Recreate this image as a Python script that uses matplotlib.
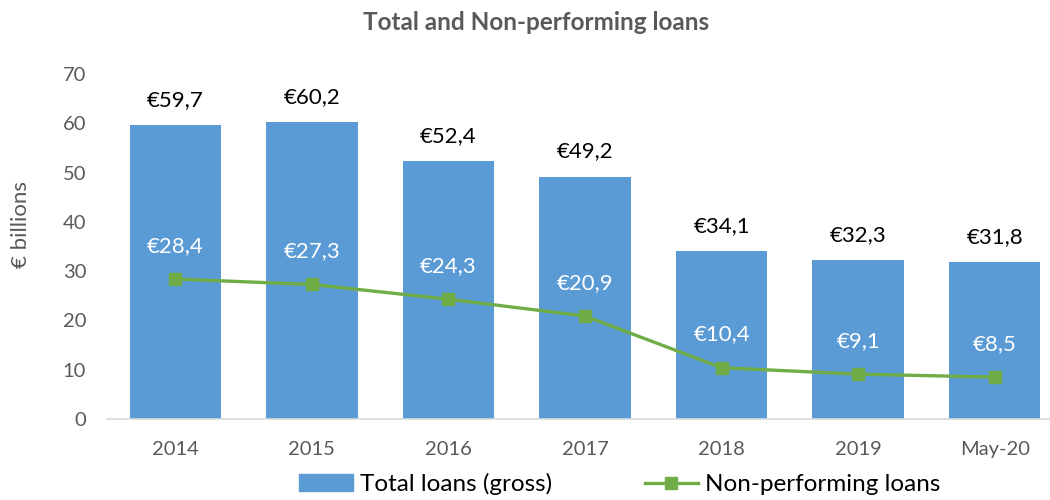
import numpy as np
import matplotlib
matplotlib.use("Agg")
import matplotlib.pyplot as plt
from matplotlib.patches import Patch
from matplotlib.lines import Line2D

# Data
years = ["2014", "2015", "2016", "2017", "2018", "2019", "May-20"]
totalLoans = [59.7, 60.2, 52.4, 49.2, 34.1, 32.3, 31.8]
nplLoans = [28.4, 27.3, 24.3, 20.9, 10.4, 9.1, 8.5]

barColor = "#5B9BD5"
lineColor = "#70AD47"
greyText = "#595959"

plt.rcParams["font.family"] = ["Lato", "DejaVu Sans"]

fig = plt.figure(figsize=(10.5, 5.0), dpi=100)
ax = fig.add_axes([107 / 1050, 1 - 419 / 500, (1063 - 107) / 1050, (419 - 74) / 500])

x = np.arange(len(years))
ax.bar(x, totalLoans, width=0.67, color=barColor)
ax.plot(x, nplLoans, color=lineColor, lw=2.4, marker="s", ms=8.5)

# Labels above the bars
for xi, v in zip(x, totalLoans):
	ax.annotate(f"€{v:.1f}".replace(".", ","), (xi, v), xytext=(0, 18), textcoords="offset points",
		ha="center", va="center", fontsize=16, color="black")

# Labels above the line markers
for xi, v in zip(x, nplLoans):
	ax.annotate(f"€{v:.1f}".replace(".", ","), (xi, v), xytext=(0, 24), textcoords="offset points",
		ha="center", va="center", fontsize=16, color="white")

ax.set_xlim(-0.5, len(years) - 0.5)
ax.set_ylim(0, 70)
ax.set_yticks(range(0, 71, 10))
ax.set_xticks(x)
ax.set_xticklabels(years)
ax.tick_params(axis="both", length=0, labelsize=14.5, colors=greyText)
ax.tick_params(axis="x", pad=16)
ax.tick_params(axis="y", pad=15)

for side in ["top", "right", "left"]:
	ax.spines[side].set_visible(False)
ax.spines["bottom"].set_color("#D9D9D9")
ax.spines["bottom"].set_linewidth(1.2)

fig.text(21 / 1050, 1 - 224 / 500, "€ billions", rotation=90, ha="center", va="center",
	fontsize=16, color=greyText)
fig.text(536 / 1050, 1 - 22 / 500, "Total and Non-performing loans", ha="center", va="center",
	fontsize=17.5, fontweight="bold", color=greyText)

handles = [Patch(color=barColor), Line2D([], [], color=lineColor, lw=2.4, marker="s", ms=8)]
fig.legend(handles, ["Total loans (gross)", "Non-performing loans"], loc="center",
	bbox_to_anchor=(620 / 1050, 1 - 484 / 500), ncol=2, frameon=False, fontsize=17.5,
	columnspacing=3.8, handlelength=2.2, handletextpad=0.3, borderpad=0.2)

fig.savefig("out.png", dpi=100)
